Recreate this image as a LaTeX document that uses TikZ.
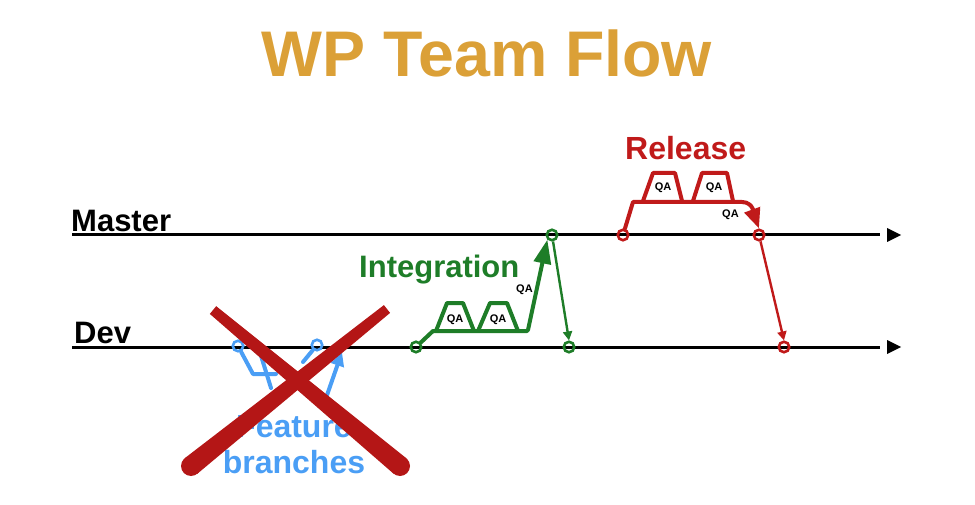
\documentclass[tikz,border=0pt]{standalone}
\usepackage{fontspec}
\setmainfont{Liberation Sans}
\usetikzlibrary{arrows.meta}
\definecolor{titleor}{RGB}{219,160,55}
\definecolor{gitgreen}{RGB}{30,125,40}
\definecolor{relred}{RGB}{192,26,26}
\definecolor{featblue}{RGB}{74,158,245}
\definecolor{xred}{RGB}{180,22,22}
\tikzset{
  lane/.style={line width=3pt,black},
  lanetip/.style={fill=black},
  commit/.style={circle,draw,line width=2.6pt,minimum size=10.5pt,inner sep=0pt},
  lbl/.style={font=\bfseries,inner sep=0pt,anchor=base west},
  qa/.style={font=\bfseries\fontsize{11}{11}\selectfont,inner sep=0pt,text=black},
  gpath/.style={gitgreen,line width=4pt,line join=round,line cap=round},
  rpath/.style={relred,line width=4pt,line join=round,line cap=round},
  bpath/.style={featblue,line width=4pt,line join=round,line cap=round},
}
\begin{document}
\begin{tikzpicture}[x=1pt,y=-1pt]
\useasboundingbox (0,0) rectangle (975,505);
% title
\node[font=\bfseries\fontsize{64.5}{64.5}\selectfont,text=titleor,anchor=base,inner sep=0pt] (title) at (487,77) {WP Team Flow};
% lanes
\node[lbl,font=\bfseries\fontsize{31}{31}\selectfont] (mlab) at (71,232) {Master};
\node[lbl,font=\bfseries\fontsize{31}{31}\selectfont] (dlab) at (74,343) {Dev};
\coordinate (m0) at (72,235); \coordinate (m1) at (880,235);
\coordinate (d0) at (72,347); \coordinate (d1) at (880,347);
\draw[lane] (m0) -- (m1);
\draw[lane] (d0) -- (d1);
\fill[lanetip] (887,228) -- (901,235) -- (887,242) -- cycle;
\fill[lanetip] (887,340) -- (901,347) -- (887,354) -- cycle;
% commits
\node[commit,draw=featblue] (b1) at (238,346) {};
\node[commit,draw=featblue] (b2) at (317,345) {};
\node[commit,draw=gitgreen] (g1) at (416,347) {};
\node[commit,draw=gitgreen] (g2) at (552,235) {};
\node[commit,draw=gitgreen] (g3) at (569,347) {};
\node[commit,draw=relred] (r1) at (623,235) {};
\node[commit,draw=relred] (r2) at (759,235) {};
\node[commit,draw=relred] (r3) at (784,347) {};
% feature branches (blue)
\draw[bpath] (b1) -- (253,374) -- (276,374);
\draw[bpath] (258,346) -- (271,388);
\draw[bpath] (b2) -- (303,362);
\draw[bpath,-{Triangle[length=14pt,width=13pt]}] (326,398) -- (342,352);
\node[font=\bfseries\fontsize{32}{32}\selectfont,text=featblue,align=center,inner sep=0pt,anchor=base] (feat) at (294,437) {Feature};
\node[font=\bfseries\fontsize{32}{32}\selectfont,text=featblue,inner sep=0pt,anchor=base] (br) at (294,473) {branches};
% integration (green)
\draw[gpath] (g1) -- (433,331) -- (527,331);
\draw[gpath] (436,331) -- (447,303) -- (463,303) -- (474,331);
\draw[gpath] (478,331) -- (490,303) -- (507,303) -- (518,331);
\node[qa] (qg1) at (455,320) {QA};
\node[qa] (qg2) at (498,320) {QA};
\coordinate (gup) at (528,330);
\draw[gpath,-{Triangle[length=24pt,width=17pt]}] (gup) -- (g2.south west);
\draw[gitgreen,line width=2.4pt,-{Triangle[length=9pt,width=9pt]}] (g2) -- (g3.north);
\node[lbl,font=\bfseries\fontsize{31}{31}\selectfont,text=gitgreen] (intl) at (359,278) {Integration};
\node[qa,anchor=base west] (qg3) at (516,292) {QA};
% release (red)
\node[lbl,font=\bfseries\fontsize{32}{32}\selectfont,text=relred] (rell) at (625,160) {Release};
\coordinate (rk) at (633,202);
\coordinate (rr) at (742,202);
\draw[rpath] (r1) -- (rk) -- (rr);
\draw[rpath,-{Triangle[length=20pt,width=16pt]}] (rr) to[out=0,in=110] (r2.north);
\draw[rpath] (643,201) -- (653,173) -- (675,173) -- (682,201);
\draw[rpath] (693,201) -- (702,173) -- (727,173) -- (733,201);
\node[qa] (qr1) at (663,188) {QA};
\node[qa] (qr2) at (714,188) {QA};
\node[qa,anchor=base west] (qr3) at (722,218) {QA};
\draw[relred,line width=2.4pt,-{Triangle[length=9pt,width=9pt]}] (r2) -- (r3.north);
% red cross
\fill[xred] (216.2,306.2) -- (406.4,458.3) -- (393.6,473.7) -- (209.8,313.9) -- cycle;
\fill[xred] (400,466) circle[radius=10];
\fill[xred] (390.1,312.9) -- (197.25,473.8) -- (184.75,458.2) -- (383.9,305.1) -- cycle;
\fill[xred] (191,466) circle[radius=10];
\end{tikzpicture}
\end{document}
